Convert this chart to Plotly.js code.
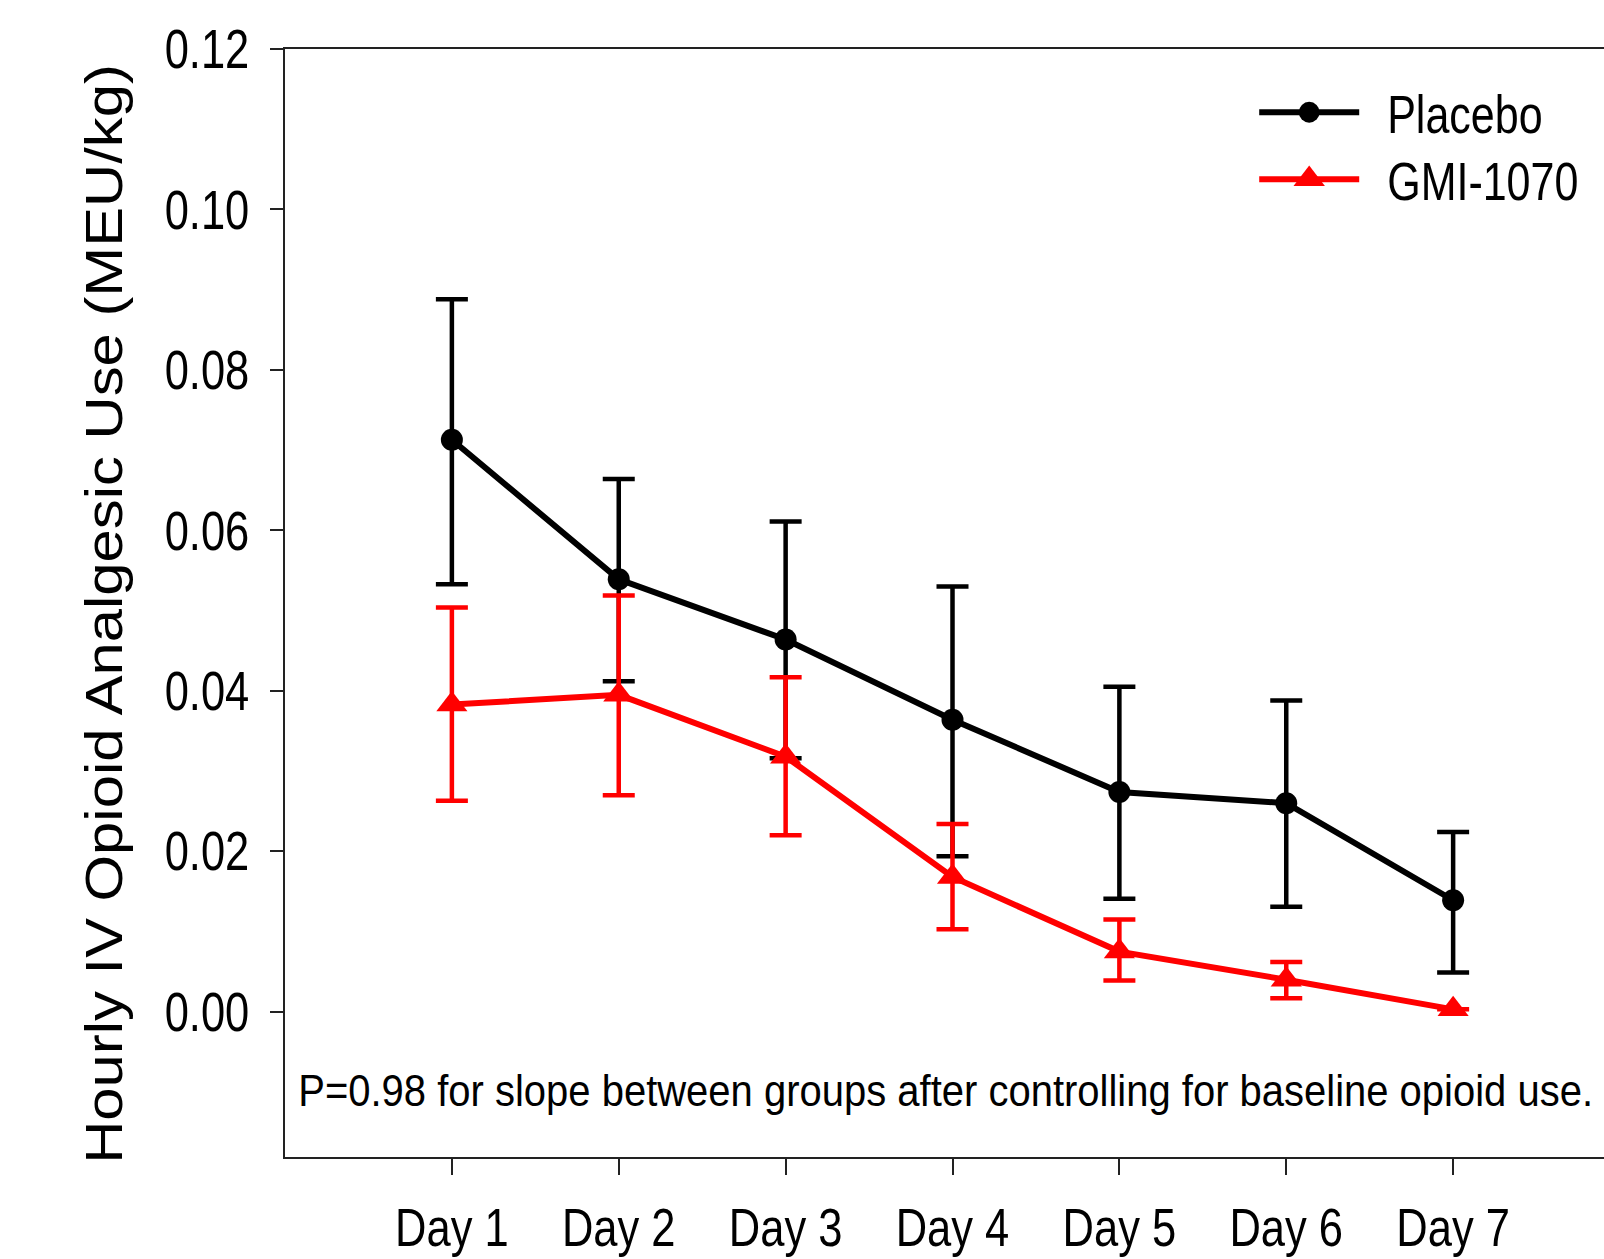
<!DOCTYPE html>
<html>
<head>
<meta charset="utf-8">
<script src="https://cdn.plot.ly/plotly-3.0.1.min.js"></script>
<style>
html, body { margin: 0; padding: 0; overflow: hidden; background: #fff; }
#chart { width: 1640px; height: 1259px; }
</style>
</head>
<body>
<div id="chart"></div>
<script>
// Categories
const days = ['Day 1', 'Day 2', 'Day 3', 'Day 4', 'Day 5', 'Day 6', 'Day 7'];

// Placebo: mean, upper error, lower error (MEU/kg)
const placeboMean  = [0.0713, 0.0539, 0.0464, 0.0364, 0.0274, 0.0260, 0.0139];
const placeboUpper = [0.0888, 0.0664, 0.0611, 0.0530, 0.0405, 0.0388, 0.0224];
const placeboLower = [0.0533, 0.0412, 0.0316, 0.0194, 0.0141, 0.0131, 0.0049];

// GMI-1070: mean, upper error, lower error (MEU/kg)
const gmiMean  = [0.0383, 0.0395, 0.0318, 0.0168, 0.0075, 0.0040, 0.0003];
const gmiUpper = [0.0504, 0.0519, 0.0417, 0.0234, 0.0115, 0.0062, 0.0003];
const gmiLower = [0.0263, 0.0270, 0.0220, 0.0103, 0.0039, 0.0017, 0.0003];

const yTitle = 'Hourly IV Opioid Analgesic Use (MEU/kg)';
const noteText = 'P=0.98 for slope between groups after controlling for baseline opioid use.';

const FONT = 'Liberation Sans, Arial, sans-serif';

const plus = (hi, m) => hi.map((v, i) => Math.max(0, v - m[i]));
const minus = (lo, m) => lo.map((v, i) => Math.max(0, m[i] - v));

const traces = [
  {
    name: 'Placebo', legendgroup: 'a',
    x: days, y: placeboMean,
    type: 'scatter', mode: 'lines+markers',
    line: { color: '#000000', width: 6 },
    marker: { symbol: 'circle', size: 22, color: '#000000' },
    error_y: {
      type: 'data', symmetric: false,
      array: plus(placeboUpper, placeboMean),
      arrayminus: minus(placeboLower, placeboMean),
      color: '#000000', thickness: 4.5, width: 16
    }
  },
  {
    name: 'GMI-1070', legendgroup: 'b',
    x: days, y: gmiMean,
    type: 'scatter', mode: 'lines+markers',
    line: { color: '#ff0000', width: 6 },
    marker: { symbol: 'triangle-up', size: 27, color: '#ff0000' },
    error_y: {
      type: 'data', symmetric: false,
      array: plus(gmiUpper, gmiMean),
      arrayminus: minus(gmiLower, gmiMean),
      color: '#ff0000', thickness: 4.5, width: 16
    }
  }
];

const layout = {
  width: 1640, height: 1259,
  margin: { l: 285, r: 20, t: 49, b: 102 },
  paper_bgcolor: '#ffffff', plot_bgcolor: '#ffffff',
  font: { family: FONT, size: 43, color: '#000000' },
  showlegend: true,
  legend: {
    x: 0.726, y: 0.974, xanchor: 'left', yanchor: 'top',
    bgcolor: 'rgba(0,0,0,0)', borderwidth: 0,
    font: { family: FONT, size: 43, color: '#000000' },
    itemwidth: 100, tracegroupgap: 8
  },
  xaxis: {
    type: 'category',
    range: [-1, 7],
    showgrid: false, zeroline: false,
    showline: true, linecolor: '#222222', linewidth: 2, mirror: true,
    ticks: 'outside', ticklen: 16, tickwidth: 2, tickcolor: '#222222',
    ticklabelstandoff: 16,
    tickfont: { family: FONT, size: 43.5, color: '#000000' }
  },
  yaxis: {
    range: [-0.0181, 0.12],
    tick0: 0, dtick: 0.02, tickformat: '.2f',
    showgrid: false, zeroline: false,
    showline: true, linecolor: '#222222', linewidth: 2, mirror: true,
    ticks: 'outside', ticklen: 13, tickwidth: 2, tickcolor: '#222222',
    ticklabelstandoff: 12,
    tickfont: { family: FONT, size: 43.5, color: '#000000' },
    title: { text: yTitle, standoff: 25, font: { family: FONT, size: 52, color: '#000000' } }
  },
  annotations: [{
    xref: 'paper', yref: 'paper',
    x: 0.0085, y: 0.0596, xanchor: 'left', yanchor: 'middle',
    text: noteText, showarrow: false,
    font: { family: FONT, size: 40, color: '#000000' }
  }]
};

// The reference lettering is tall and narrow; stretch each text about its own centre.
function stretchText(selector, sx, sy, dx, dy) {
  document.querySelectorAll(selector).forEach(function (el) {
    const b = el.getBBox();
    const cx = b.x + b.width / 2, cy = b.y + b.height / 2;
    const t = el.getAttribute('transform') || '';
    el.setAttribute('transform',
      'translate(' + (dx || 0) + ',' + (dy || 0) + ') ' + t +
      ' translate(' + cx + ',' + cy + ') scale(' + sx + ',' + sy + ') translate(' + (-cx) + ',' + (-cy) + ')');
  });
}

Plotly.newPlot('chart', traces, layout, { displayModeBar: false, staticPlot: true }).then(function () {
  // let the legend entries draw outside its computed box
  document.querySelectorAll('#chart .legend [clip-path]').forEach(function (el) {
    el.removeAttribute('clip-path');
  });
  stretchText('#chart .xtick text', 1, 1.22, 0, 0);
  stretchText('#chart .ytick text', 1, 1.26, 0, 0);
  stretchText('#chart .legendtext', 1, 1.25, 23, 0);
  stretchText('#chart .annotation-text', 1, 1.1, 0, 0);
  stretchText('#chart .ytitle', 1.15, 1, 0, 11);
  // larger legend symbols, as in the reference
  document.querySelectorAll('#chart .legend .traces').forEach(function (item, i) {
    item.querySelectorAll('.scatterpts').forEach(function (el) {
      const t = el.getAttribute('transform') || '';
      el.setAttribute('transform', t + ' scale(' + (i === 0 ? 1.3 : 1.7) + ')');
    });
  });
});
</script>
</body>
</html>
